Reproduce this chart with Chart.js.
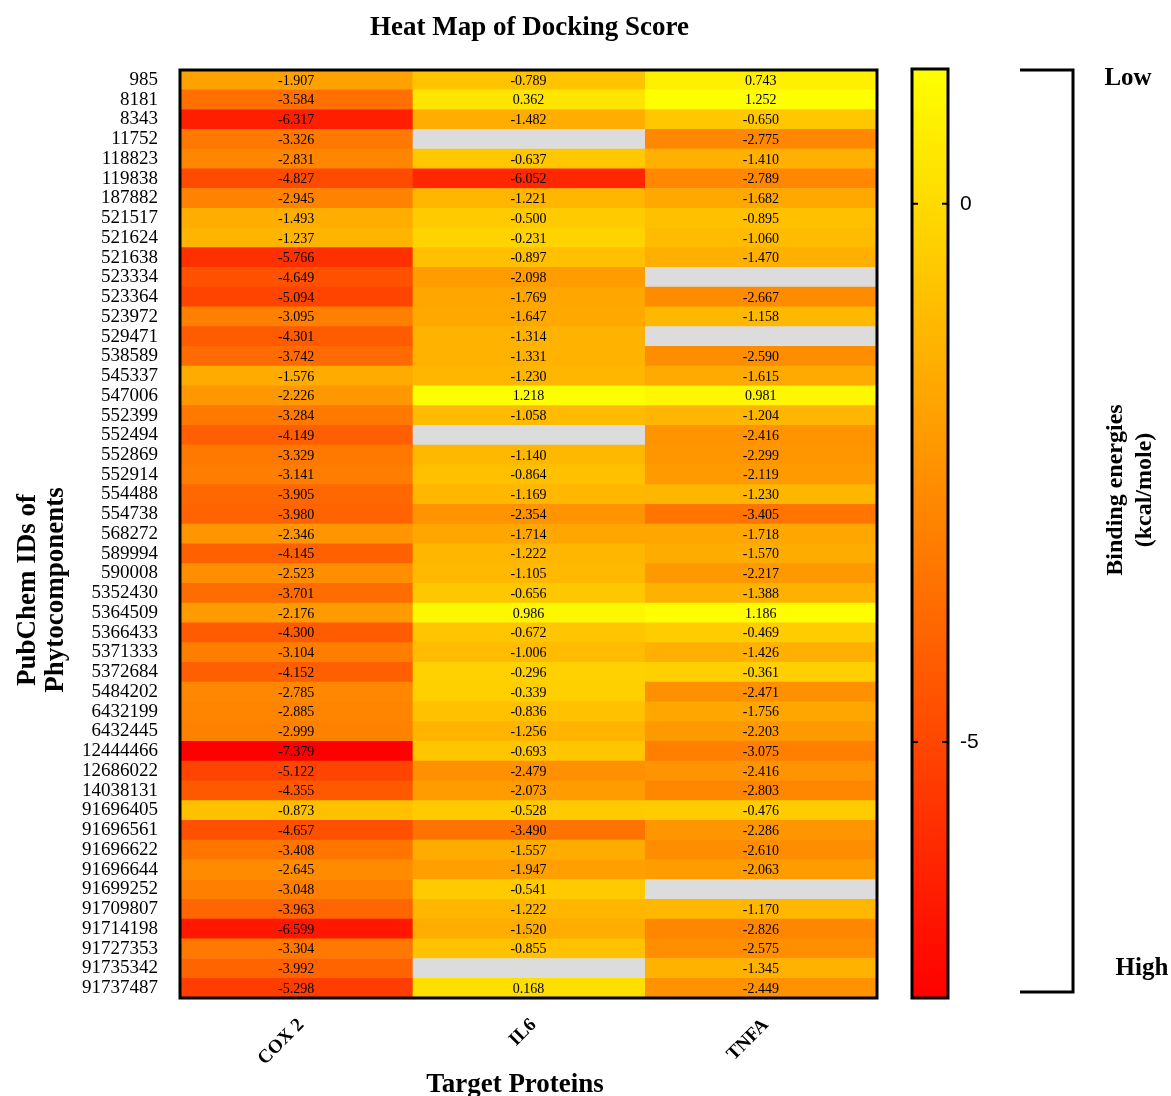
<!DOCTYPE html>
<html>
<head>
<meta charset="utf-8">
<script src="https://cdn.jsdelivr.net/npm/chart.js@4/dist/chart.umd.min.js"></script>
<style>
  html, body { margin: 0; padding: 0; background: #ffffff; }
  #wrap { position: relative; width: 1171px; height: 1096px; }
  #main { position: absolute; left: 0; top: 0; }
  #bar { position: absolute; left: 880px; top: 0; }
</style>
</head>
<body>
<div id="wrap">
  <canvas id="main" width="1171" height="1096"></canvas>
  <canvas id="bar" width="200" height="1096"></canvas>
</div>
<script>
const proteins = ['COX 2', 'IL6', 'TNFA'];
const compoundIds = ['985','8181','8343','11752','118823','119838','187882','521517','521624','521638',
  '523334','523364','523972','529471','538589','545337','547006','552399','552494','552869',
  '552914','554488','554738','568272','589994','590008','5352430','5364509','5366433','5371333',
  '5372684','5484202','6432199','6432445','12444466','12686022','14038131','91696405','91696561','91696622',
  '91696644','91699252','91709807','91714198','91727353','91735342','91737487'];
const cox2 = [-1.907,-3.584,-6.317,-3.326,-2.831,-4.827,-2.945,-1.493,-1.237,-5.766,
  -4.649,-5.094,-3.095,-4.301,-3.742,-1.576,-2.226,-3.284,-4.149,-3.329,
  -3.141,-3.905,-3.980,-2.346,-4.145,-2.523,-3.701,-2.176,-4.300,-3.104,
  -4.152,-2.785,-2.885,-2.999,-7.379,-5.122,-4.355,-0.873,-4.657,-3.408,
  -2.645,-3.048,-3.963,-6.599,-3.304,-3.992,-5.298];
const il6 = [-0.789,0.362,-1.482,null,-0.637,-6.052,-1.221,-0.500,-0.231,-0.897,
  -2.098,-1.769,-1.647,-1.314,-1.331,-1.230,1.218,-1.058,null,-1.140,
  -0.864,-1.169,-2.354,-1.714,-1.222,-1.105,-0.656,0.986,-0.672,-1.006,
  -0.296,-0.339,-0.836,-1.256,-0.693,-2.479,-2.073,-0.528,-3.490,-1.557,
  -1.947,-0.541,-1.222,-1.520,-0.855,null,0.168];
const tnfa = [0.743,1.252,-0.650,-2.775,-1.410,-2.789,-1.682,-0.895,-1.060,-1.470,
  null,-2.667,-1.158,null,-2.590,-1.615,0.981,-1.204,-2.416,-2.299,
  -2.119,-1.230,-3.405,-1.718,-1.570,-2.217,-1.388,1.186,-0.469,-1.426,
  -0.361,-2.471,-1.756,-2.203,-3.075,-2.416,-2.803,-0.476,-2.286,-2.610,
  -2.063,null,-1.170,-2.826,-2.575,-1.345,-2.449];
const colorbarTicks = [0, -5];

const series = [cox2, il6, tnfa];
const allVals = series.flat().filter(v => v !== null);
const colorMin = Math.min(...allVals);
const colorMax = Math.max(...allVals);
const missingColor = '#dcdcdc';

function colorFor(v) {
  if (v === null) return missingColor;
  const t = Math.max(0, Math.min(1, (v - colorMin) / (colorMax - colorMin)));
  return 'rgb(255,' + Math.round(255 * t) + ',0)';
}

const SERIF = '"Liberation Serif", "Times New Roman", serif';
const SANS = '"Liberation Sans", Arial, sans-serif';

const cellLabels = {
  id: 'cellLabels',
  afterDatasetsDraw(chart) {
    const ctx = chart.ctx;
    ctx.save();
    ctx.font = '14px ' + SERIF;
    ctx.fillStyle = '#000';
    ctx.textAlign = 'center';
    ctx.textBaseline = 'middle';
    chart.data.datasets.forEach((ds, di) => {
      const meta = chart.getDatasetMeta(di);
      meta.data.forEach((el, j) => {
        const v = ds.values[j];
        if (v === null) return;
        const p = el.getCenterPoint();
        ctx.fillText(v.toFixed(3), p.x, p.y + 1);
      });
    });
    const a = chart.chartArea;
    ctx.lineWidth = 3;
    ctx.strokeStyle = '#000';
    ctx.strokeRect(a.left, a.top, a.right - a.left, a.bottom - a.top);
    ctx.restore();
  }
};

const decorations = {
  id: 'decorations',
  afterDraw(chart) {
    const ctx = chart.ctx;
    const a = chart.chartArea;
    ctx.save();
    ctx.fillStyle = '#000';
    ctx.strokeStyle = '#000';
    // main title
    ctx.font = 'bold 27px ' + SERIF;
    ctx.textAlign = 'center';
    ctx.textBaseline = 'alphabetic';
    ctx.fillText('Heat Map of Docking Score', (a.left + a.right) / 2 + 1, 35);
    // x title
    ctx.fillText('Target Proteins', 515, 1092);
    // y title
    ctx.save();
    ctx.translate(0, 590);
    ctx.rotate(-Math.PI / 2);
    ctx.textBaseline = 'middle';
    ctx.fillText('PubChem IDs of', 0, 28);
    ctx.fillText('Phytocomponents', 0, 56);
    ctx.restore();
    // bracket
    ctx.lineWidth = 3;
    ctx.beginPath();
    ctx.moveTo(1020, 70);
    ctx.lineTo(1073, 70);
    ctx.lineTo(1073, 992);
    ctx.lineTo(1020, 992);
    ctx.stroke();
    ctx.font = 'bold 25px ' + SERIF;
    ctx.textBaseline = 'middle';
    ctx.fillText('Low', 1128, 79);
    ctx.fillText('High', 1142, 969);
    // colorbar title
    ctx.save();
    ctx.translate(0, 490);
    ctx.rotate(-Math.PI / 2);
    ctx.font = 'bold 24px ' + SERIF;
    ctx.textBaseline = 'middle';
    ctx.fillText('Binding energies', 0, 1116);
    ctx.fillText('(kcal/mole)', 0, 1145);
    ctx.restore();
    ctx.restore();
  }
};

new Chart(document.getElementById('main'), {
  type: 'bar',
  data: {
    labels: compoundIds,
    datasets: proteins.map((p, c) => ({
      label: p,
      data: compoundIds.map(() => [c, c + 1]),
      values: series[c],
      backgroundColor: series[c].map(colorFor),
      borderWidth: 0,
      barPercentage: 1,
      categoryPercentage: 1,
      grouped: false,
      xAxisID: 'x',
      yAxisID: 'y'
    }))
  },
  options: {
    indexAxis: 'y',
    responsive: false,
    animation: false,
    events: [],
    layout: { padding: { left: 0, top: 70, right: 294, bottom: 0 } },
    scales: {
      x: { type: 'linear', min: 0, max: 3, display: false },
      x2: {
        type: 'category',
        labels: proteins,
        position: 'bottom',
        offset: true,
        grid: { display: false, drawTicks: false },
        border: { display: false },
        ticks: {
          minRotation: 45, maxRotation: 45,
          font: { family: SERIF, size: 19, weight: 'bold' },
          color: '#000',
          padding: 16,
          labelOffset: 5
        },
        afterFit(s) { s.height = 98; }
      },
      y: {
        type: 'category',
        offset: true,
        grid: { display: false, drawTicks: false },
        border: { display: false },
        ticks: {
          autoSkip: false,
          font: { family: SERIF, size: 19 },
          color: '#000',
          padding: 22
        },
        afterFit(s) { s.width = 180; }
      }
    },
    plugins: { legend: { display: false }, tooltip: { enabled: false }, title: { display: false } }
  },
  plugins: [cellLabels, decorations]
});

const barFrame = {
  id: 'barFrame',
  afterDraw(chart) {
    const ctx = chart.ctx;
    const a = chart.chartArea;
    const ys = chart.scales.y;
    ctx.save();
    ctx.strokeStyle = '#000';
    ctx.lineWidth = 3;
    ctx.strokeRect(a.left, a.top, a.right - a.left, a.bottom - a.top);
    ctx.lineWidth = 2;
    colorbarTicks.forEach(v => {
      const y = ys.getPixelForValue(v);
      ctx.beginPath();
      ctx.moveTo(a.left, y); ctx.lineTo(a.left + 6, y);
      ctx.moveTo(a.right - 6, y); ctx.lineTo(a.right, y);
      ctx.stroke();
    });
    ctx.restore();
  }
};

new Chart(document.getElementById('bar'), {
  type: 'bar',
  data: {
    labels: ['Binding energies'],
    datasets: [{
      data: [[colorMin, colorMax]],
      backgroundColor(ctx) {
        const chart = ctx.chart;
        if (!chart.chartArea) return colorFor(colorMin);
        const ys = chart.scales.y;
        const g = chart.ctx.createLinearGradient(0, ys.getPixelForValue(colorMin), 0, ys.getPixelForValue(colorMax));
        g.addColorStop(0, colorFor(colorMin));
        g.addColorStop(0.5, colorFor((colorMin + colorMax) / 2));
        g.addColorStop(1, colorFor(colorMax));
        return g;
      },
      borderWidth: 0,
      barPercentage: 1,
      categoryPercentage: 1
    }]
  },
  options: {
    responsive: false,
    animation: false,
    events: [],
    layout: { padding: { left: 32, top: 69, right: 0, bottom: 98 } },
    scales: {
      x: { display: false },
      y: {
        type: 'linear',
        position: 'right',
        min: colorMin,
        max: colorMax,
        grid: { display: false, drawTicks: false },
        border: { display: false },
        afterBuildTicks(s) { s.ticks = colorbarTicks.map(v => ({ value: v })); },
        ticks: {
          font: { family: SANS, size: 21 },
          color: '#000',
          padding: 12,
          callback: v => String(v)
        },
        afterFit(s) { s.width = 200 - 32 - 36; }
      }
    },
    plugins: { legend: { display: false }, tooltip: { enabled: false } }
  },
  plugins: [barFrame]
});
</script>
</body>
</html>
